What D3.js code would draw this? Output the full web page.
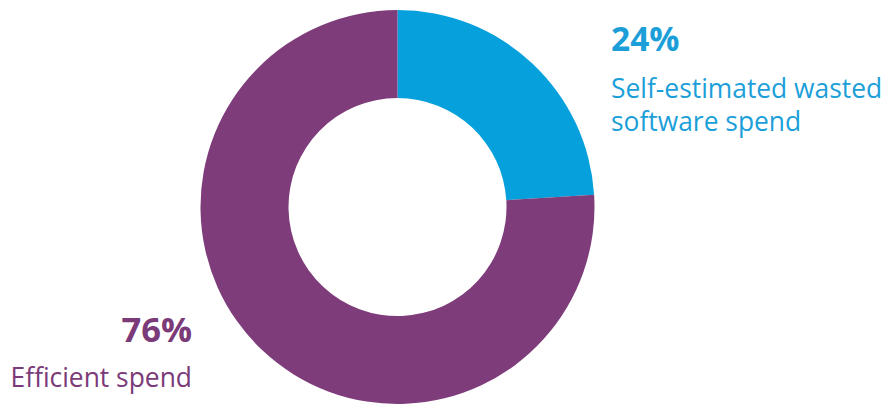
<!DOCTYPE html>
<html><head><meta charset="utf-8">
<script src="https://cdn.jsdelivr.net/npm/d3@7"></script>
<style>body{margin:0;background:#fff;}svg{display:block;}</style>
</head><body>
<svg id="chart" width="889" height="405"></svg>
<script>
const categories = ["Self-estimated wasted software spend", "Efficient spend"];
const values = [24, 76];
const percentLabels = ["24%", "76%"];
const labelLines = [["Self-estimated wasted", "software spend"], ["Efficient spend"]];
const colors = ["#06a0dc", "#7f3c7b"];
const textColors = ["#1c9fd9", "#7b3a78"];

const svg = d3.select("#chart");
const cx = 397.5, cy = 207, rOuter = 197, rInner = 109;

const pie = d3.pie().sort(null).value(d => d)(values);
const arc = d3.arc().innerRadius(rInner).outerRadius(rOuter);
const g = svg.append("g").attr("transform", `translate(${cx},${cy})`);
g.selectAll("path").data(pie).join("path")
  .attr("d", arc)
  .attr("fill", (d, i) => colors[i]);

const font = "'Open Sans', sans-serif";
// Right-side label (24%)
const t0 = svg.append("g").attr("fill", textColors[0]).style("font-family", font);
t0.append("text").attr("x", 611).attr("y", 51).attr("font-size", 33.5).attr("font-weight", 700).text(percentLabels[0]);
labelLines[0].forEach((l, j) => {
  t0.append("text").attr("x", 611).attr("y", 98 + j * 33).attr("font-size", 26.4).text(l);
});
// Left label (76%)
const t1 = svg.append("g").attr("fill", textColors[1]).style("font-family", font).attr("text-anchor", "end");
t1.append("text").attr("x", 192).attr("y", 342).attr("font-size", 34.5).attr("font-weight", 700).text(percentLabels[1]);
t1.append("text").attr("x", 192).attr("y", 387).attr("font-size", 26.4).text(labelLines[1][0]);
</script>
</body></html>
